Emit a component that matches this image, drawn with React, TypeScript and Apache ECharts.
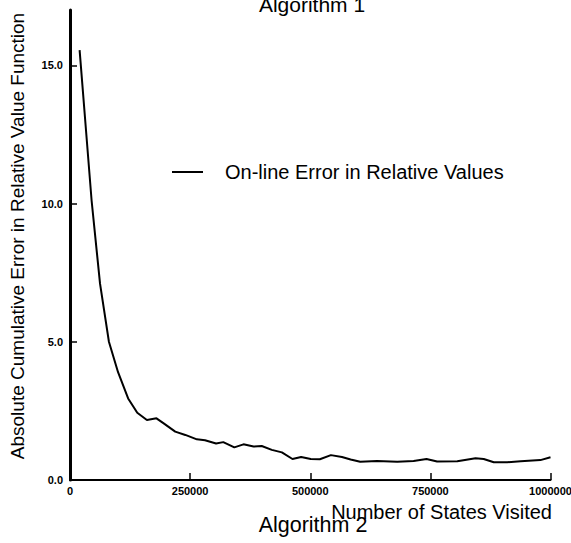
import React, { useEffect, useRef } from "react";
import * as echarts from "echarts";

const statesVisited = [
  20000, 45000, 62500, 81000, 100000, 121000, 140000, 160000, 180000, 195000,
  219000, 240000, 264000, 281000, 304000, 319000, 342000, 361000, 382000, 399000,
  420000, 441000, 463000, 481000, 501000, 520000, 543000, 566000, 584000, 604000,
  639000, 681000, 715000, 742000, 764000, 806000, 844000, 861000, 882000, 910000,
  938000, 979000, 1000000,
];
const errorValues = [
  15.55, 10.1, 7.1, 5.0, 3.9, 2.95, 2.43, 2.17, 2.23, 2.05,
  1.75, 1.63, 1.47, 1.44, 1.32, 1.37, 1.18, 1.29, 1.21, 1.23,
  1.09, 1.0, 0.76, 0.83, 0.76, 0.75, 0.9, 0.83, 0.74, 0.66,
  0.69, 0.66, 0.69, 0.76, 0.67, 0.68, 0.79, 0.76, 0.64, 0.64,
  0.68, 0.72, 0.82,
];
const yTicks = [0, 5, 10, 15];
const xTicks = [0, 250000, 500000, 750000, 1000000];
const seriesName = "On-line Error in Relative Values";
const yAxisTitle = "Absolute Cumulative Error in Relative Value Function";
const xAxisTitle = "Number of States Visited";
const topTitle = "Algorithm 1";
const bottomTitle = "Algorithm 2";

const FONT = "Liberation Sans, Arial, Helvetica, sans-serif";

export default function App() {
  const ref = useRef<HTMLDivElement>(null);
  useEffect(() => {
    if (!ref.current) return;
    const chart = echarts.init(ref.current, undefined, { renderer: "svg" });
    chart.setOption({
      animation: false,
      backgroundColor: "#ffffff",
      grid: {
        left: 70,
        right: 20.5,
        top: 10,
        bottom: 63,
        containLabel: false,
        outerBoundsMode: "none",
      },
      legend: {
        show: true,
        left: 172,
        top: 162,
        padding: 0,
        itemWidth: 31,
        itemHeight: 2,
        icon: "rect",
        data: [seriesName],
        textStyle: {
          fontFamily: FONT,
          fontSize: 20,
          color: "#000",
          padding: [0, 0, 0, 17],
        },
      },
      xAxis: {
        type: "value",
        min: 0,
        max: 1000000,
        interval: 250000,
        splitLine: { show: false },
        axisLine: { show: true, onZero: false, lineStyle: { color: "#000", width: 2 } },
        axisTick: {
          show: true,
          inside: true,
          length: 7,
          customValues: xTicks,
          lineStyle: { color: "#000", width: 1.5 },
        },
        axisLabel: {
          customValues: xTicks,
          fontFamily: FONT,
          fontWeight: "bold",
          fontSize: 11,
          color: "#000",
          margin: 5,
          hideOverlap: false,
          formatter: (v: number) => String(v),
        },
      },
      yAxis: {
        type: "value",
        min: 0,
        max: 17,
        interval: 5,
        splitLine: { show: false },
        axisLine: { show: true, onZero: false, lineStyle: { color: "#000", width: 3 } },
        axisTick: {
          show: true,
          inside: true,
          length: 7,
          customValues: yTicks,
          lineStyle: { color: "#000", width: 1.5 },
        },
        axisLabel: {
          customValues: yTicks,
          fontFamily: FONT,
          fontWeight: "bold",
          fontSize: 11,
          color: "#000",
          margin: 7,
          formatter: (v: number) => v.toFixed(1),
        },
      },
      graphic: [
        {
          type: "text",
          x: 17,
          y: 236,
          rotation: Math.PI / 2,
          style: {
            text: yAxisTitle,
            font: `19px ${FONT}`,
            fill: "#000",
            textAlign: "center",
            textVerticalAlign: "middle",
          },
        },
        {
          type: "text",
          x: 312,
          y: 4.5,
          style: {
            text: topTitle,
            font: `21px ${FONT}`,
            fill: "#000",
            textAlign: "center",
            textVerticalAlign: "middle",
          },
        },
        {
          type: "text",
          x: 552,
          y: 512,
          style: {
            text: xAxisTitle,
            font: `20px ${FONT}`,
            fill: "#000",
            textAlign: "right",
            textVerticalAlign: "middle",
          },
        },
        {
          type: "text",
          x: 313,
          y: 525,
          style: {
            text: bottomTitle,
            font: `21.5px ${FONT}`,
            fill: "#000",
            textAlign: "center",
            textVerticalAlign: "middle",
          },
        },
      ],
      series: [
        {
          name: seriesName,
          type: "line",
          symbol: "none",
          smooth: false,
          lineStyle: { color: "#000", width: 2 },
          itemStyle: { color: "#000" },
          data: statesVisited.map((x, i) => [x, errorValues[i]]),
        },
      ],
    });
    return () => chart.dispose();
  }, []);
  return (
    <div
      ref={ref}
      style={{ position: "fixed", left: 0, top: 0, width: 571, height: 543 }}
    />
  );
}
